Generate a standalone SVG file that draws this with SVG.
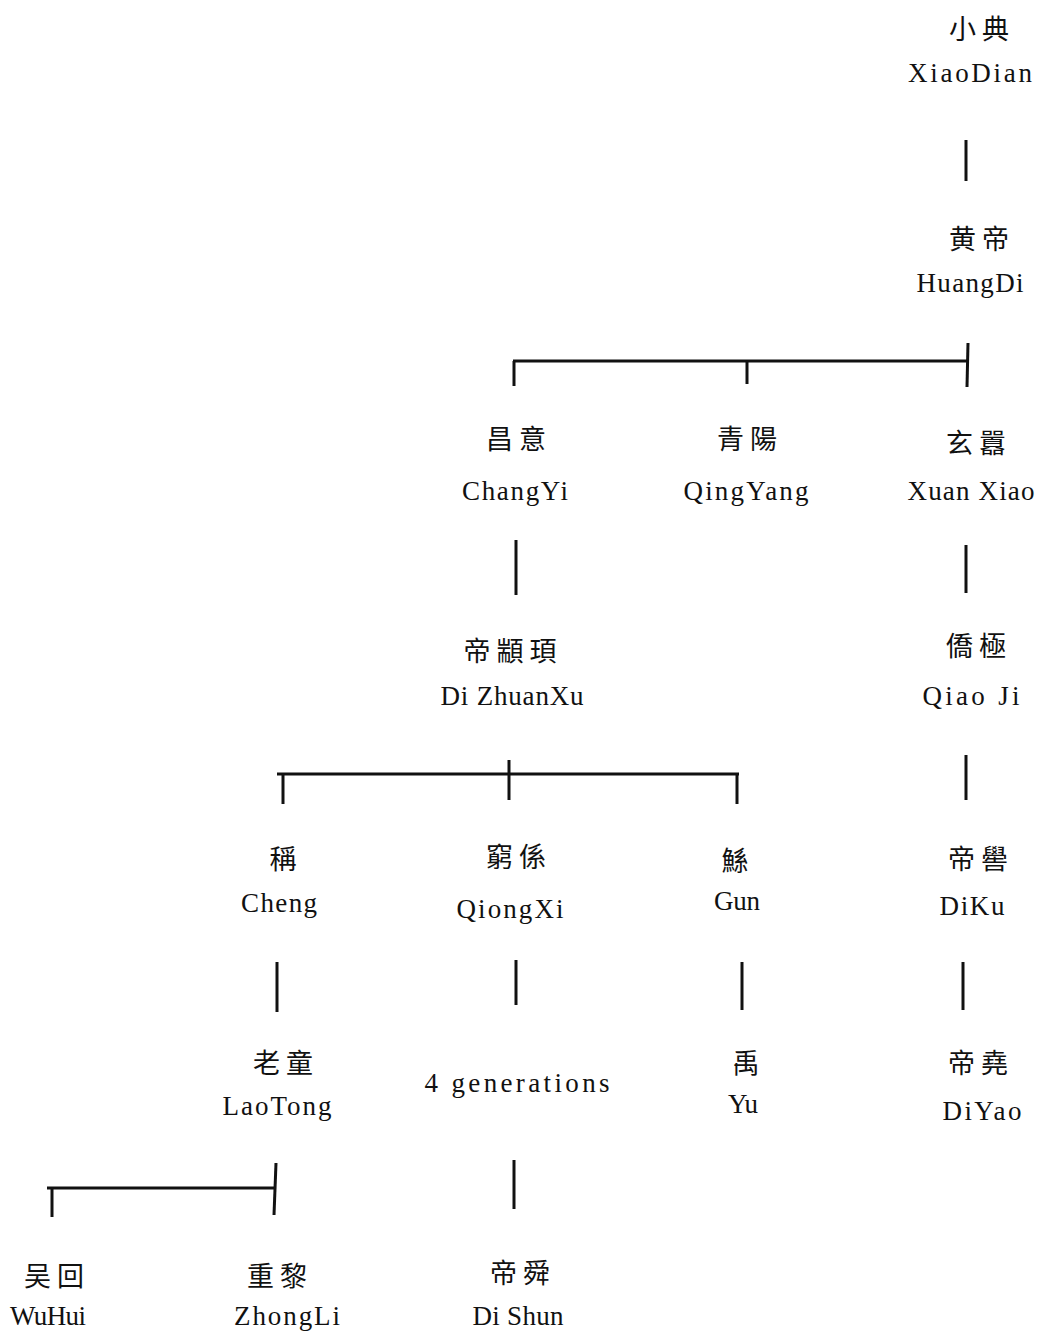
<svg xmlns="http://www.w3.org/2000/svg" width="1037" height="1332" viewBox="0 0 1037 1332">
<style>
.zh{font-family:"Noto Sans CJK TC","Noto Sans CJK SC",sans-serif;font-size:27px;letter-spacing:6px;text-anchor:middle;fill:#111}
.en{font-family:"Liberation Serif",serif;font-size:27px;text-anchor:middle;fill:#111}
.ln{stroke:#111;stroke-width:3;fill:none}
</style>
<rect width="1037" height="1332" fill="#fff"/>
<g id="connectors">
<line class="ln" x1="966" y1="140" x2="966" y2="181"/>
<line class="ln" x1="513" y1="361" x2="969" y2="361"/>
<line class="ln" x1="514" y1="361" x2="514" y2="386"/>
<line class="ln" x1="747" y1="361" x2="747" y2="384"/>
<line class="ln" x1="968" y1="343" x2="967" y2="387"/>
<line class="ln" x1="516" y1="540" x2="516" y2="595"/>
<line class="ln" x1="966" y1="545" x2="966" y2="593"/>
<line class="ln" x1="277" y1="774" x2="739" y2="774"/>
<line class="ln" x1="283" y1="774" x2="283" y2="804"/>
<line class="ln" x1="509" y1="760" x2="509" y2="800"/>
<line class="ln" x1="737" y1="774" x2="737" y2="804"/>
<line class="ln" x1="966" y1="755" x2="966" y2="800"/>
<line class="ln" x1="277" y1="962" x2="277" y2="1012"/>
<line class="ln" x1="516" y1="960" x2="516" y2="1005"/>
<line class="ln" x1="742" y1="962" x2="742" y2="1010"/>
<line class="ln" x1="963" y1="962" x2="963" y2="1010"/>
<line class="ln" x1="47" y1="1188" x2="276" y2="1188"/>
<line class="ln" x1="52" y1="1188" x2="52" y2="1217"/>
<line class="ln" x1="276" y1="1163" x2="274" y2="1215"/>
<line class="ln" x1="514" y1="1160" x2="514" y2="1209"/>
</g>
<g id="xiaodian"><text class="zh" x="982" y="39">小典</text><text class="en" x="970" y="82" textLength="124" lengthAdjust="spacing">XiaoDian</text></g>
<g id="huangdi"><text class="zh" x="982" y="249">黄帝</text><text class="en" x="970" y="292" textLength="107" lengthAdjust="spacing">HuangDi</text></g>
<g id="changyi"><text class="zh" x="519" y="449">昌意</text><text class="en" x="515" y="500" textLength="106" lengthAdjust="spacing">ChangYi</text></g>
<g id="qingyang"><text class="zh" x="750" y="449">青陽</text><text class="en" x="746" y="500" textLength="125" lengthAdjust="spacing">QingYang</text></g>
<g id="xuanxiao"><text class="zh" x="979" y="453">玄囂</text><text class="en" x="971" y="500" textLength="127" lengthAdjust="spacing">Xuan Xiao</text></g>
<g id="dizhuanxu"><text class="zh" x="513" y="661">帝顓頊</text><text class="en" x="512" y="705" textLength="143" lengthAdjust="spacing">Di ZhuanXu</text></g>
<g id="qiaoji"><text class="zh" x="979" y="656">僑極</text><text class="en" x="971" y="705" textLength="97" lengthAdjust="spacing">Qiao Ji</text></g>
<g id="cheng"><text class="zh" x="286" y="869">稱</text><text class="en" x="279" y="912" textLength="76" lengthAdjust="spacing">Cheng</text></g>
<g id="qiongxi"><text class="zh" x="519" y="867">窮係</text><text class="en" x="510" y="918" textLength="107" lengthAdjust="spacing">QiongXi</text></g>
<g id="gun"><text class="zh" x="738" y="871">鯀</text><text class="en" x="737" y="910" textLength="46" lengthAdjust="spacing">Gun</text></g>
<g id="diku"><text class="zh" x="981" y="869">帝嚳</text><text class="en" x="972" y="915" textLength="65" lengthAdjust="spacing">DiKu</text></g>
<g id="laotong"><text class="zh" x="286" y="1073">老童</text><text class="en" x="277" y="1115" textLength="109" lengthAdjust="spacing">LaoTong</text></g>
<g id="fourgen"><text class="en" x="517" y="1092" textLength="185" lengthAdjust="spacing">4 generations</text></g>
<g id="yu"><text class="zh" x="749" y="1073">禹</text><text class="en" x="743" y="1113" textLength="30" lengthAdjust="spacing">Yu</text></g>
<g id="diyao"><text class="zh" x="981" y="1073">帝堯</text><text class="en" x="982" y="1120" textLength="79" lengthAdjust="spacing">DiYao</text></g>
<g id="wuhui"><text class="zh" x="57" y="1286">吴回</text><text class="en" x="48" y="1325" textLength="76" lengthAdjust="spacing">WuHui</text></g>
<g id="zhongli"><text class="zh" x="280" y="1286">重黎</text><text class="en" x="287" y="1325" textLength="106" lengthAdjust="spacing">ZhongLi</text></g>
<g id="dishun"><text class="zh" x="523" y="1283">帝舜</text><text class="en" x="518" y="1325" textLength="91" lengthAdjust="spacing">Di Shun</text></g>
</svg>
